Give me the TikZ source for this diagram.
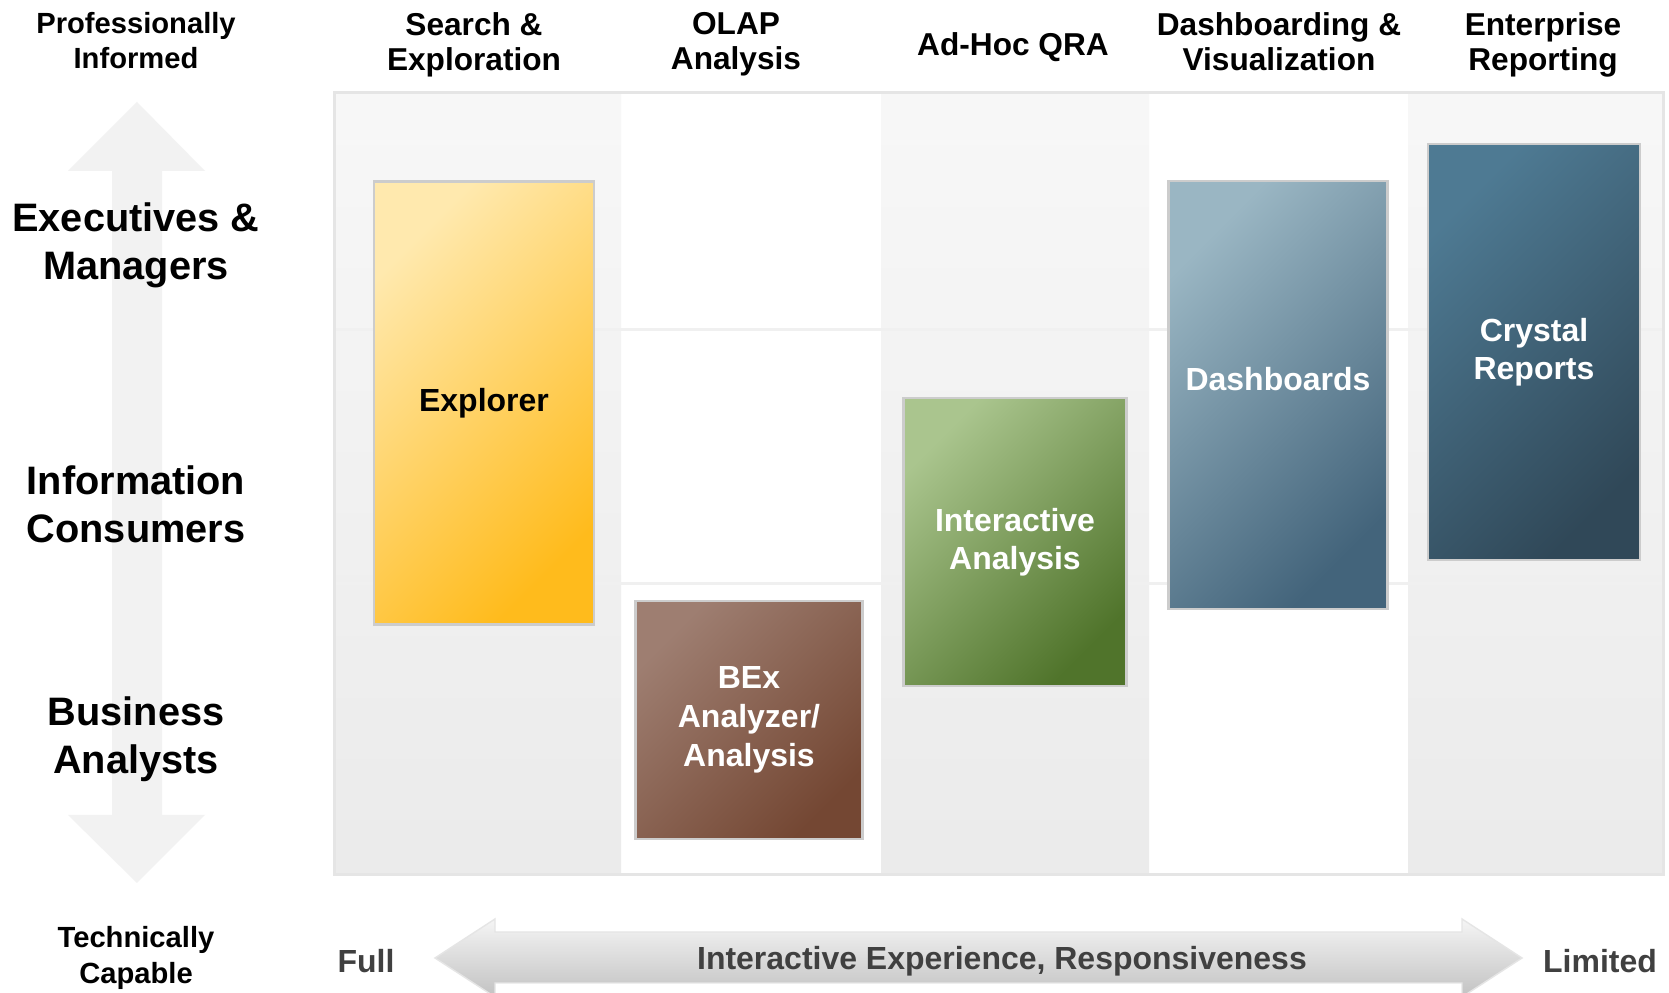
\documentclass[tikz,border=0pt]{standalone}
\usepackage{fontspec}
\setmainfont{Liberation Sans}
\definecolor{txtgray}{HTML}{404040}
\definecolor{expA}{HTML}{FFE9AE}
\definecolor{expB}{HTML}{FFBB1C}
\definecolor{bexA}{HTML}{9E7E71}
\definecolor{bexB}{HTML}{744733}
\definecolor{iaA}{HTML}{AAC58E}
\definecolor{iaB}{HTML}{50742B}
\definecolor{dshA}{HTML}{9AB6C3}
\definecolor{dshB}{HTML}{43647B}
\definecolor{crA}{HTML}{4E7A93}
\definecolor{crB}{HTML}{304858}

\begin{document}
\begin{tikzpicture}[x=0.1mm, y=-0.1mm,
  hd/.style={font=\fontsize{9}{10}\selectfont\bfseries, align=center, inner sep=0, anchor=north},
  sm/.style={font=\fontsize{8.3}{10}\selectfont\bfseries, align=center, inner sep=0},
  who/.style={font=\fontsize{11.3}{13.7}\selectfont\bfseries, align=center, inner sep=0},
  ax/.style={font=\fontsize{9.1}{10}\selectfont\bfseries, text=txtgray, inner sep=0},
  col/.style={top color=black!3, bottom color=black!8},
  tool/.style 2 args={draw=black!20, line width=0.25mm, top color=#1, bottom color=#2,
    shading angle=45, text=white, align=center, inner sep=0,
    font=\fontsize{9.1}{10.8}\selectfont\bfseries}]
\useasboundingbox (0,0) rectangle (1669,993);
\fill[white] (0,0) rectangle (1669,993);

\fill[col] (334,93) rectangle (621,875);
\fill[col] (881,93) rectangle (1149,875);
\fill[col] (1408,93) rectangle (1663,875);
\draw[black!6, line width=0.3mm] (334,330) -- (1663,330);
\draw[black!6, line width=0.3mm] (334,584) -- (1663,584);
\draw[black!10, line width=0.3mm] (334,93) rectangle (1663,875);

\fill[black!5] (137,102) -- (205,171) -- (162,171) -- (162,815) -- (205,815) -- (137,883)
  -- (68,815) -- (112,815) -- (112,171) -- (68,171) -- cycle;
\draw[black!10, top color=black!4, bottom color=black!24] (435,958) -- (495,919) -- (495,932)
  -- (1462,932) -- (1462,919) -- (1522,958) -- (1462,997) -- (1462,983) -- (495,983)
  -- (495,997) -- cycle;

\node[sm] (prof) at (136,41) {Professionally\\Informed};
\node[hd] (srch) at (474,12) {Search \&\\Exploration};
\node[hd] (olap) at (736,12) {OLAP\\Analysis};
\node[hd] (adhoc) at (1013,32) {Ad-Hoc QRA};
\node[hd] (dash) at (1279,12) {Dashboarding \&\\Visualization};
\node[hd] (ent) at (1543,12) {Enterprise\\Reporting};

\node[who] (exec) at (136,245) {Executives \&\\Managers};
\node[who] (info) at (136,504) {Information\\Consumers};
\node[who] (ba) at (136,739) {Business\\Analysts};
\node[sm] (tech) at (136,958) {Technically\\Capable};

\node[tool={expA}{expB}, text=black, minimum width=22mm, minimum height=44.3mm] (exp) at (484,403) {Explorer};
\node[tool={bexA}{bexB}, minimum width=22.7mm, minimum height=23.8mm,
  font=\fontsize{9.1}{11.1}\selectfont\bfseries] (bex) at (749,720) {BEx\\Analyzer/\\Analysis};
\node[tool={iaA}{iaB}, minimum width=22.3mm, minimum height=28.8mm] (ia) at (1015,542) {Interactive\\Analysis};
\node[tool={dshA}{dshB}, text depth=3.2mm, minimum width=21.9mm, minimum height=42.8mm] (dsh) at (1278,395) {Dashboards};
\node[tool={crA}{crB}, minimum width=21.2mm, minimum height=41.6mm] (cr) at (1534,352) {Crystal\\Reports};

\node[ax] (full) at (366,961) {Full};
\node[ax] (ixp) at (1002,961) {Interactive Experience, Responsiveness};
\node[ax] (ltd) at (1600,961) {Limited};
\end{tikzpicture}
\end{document}
